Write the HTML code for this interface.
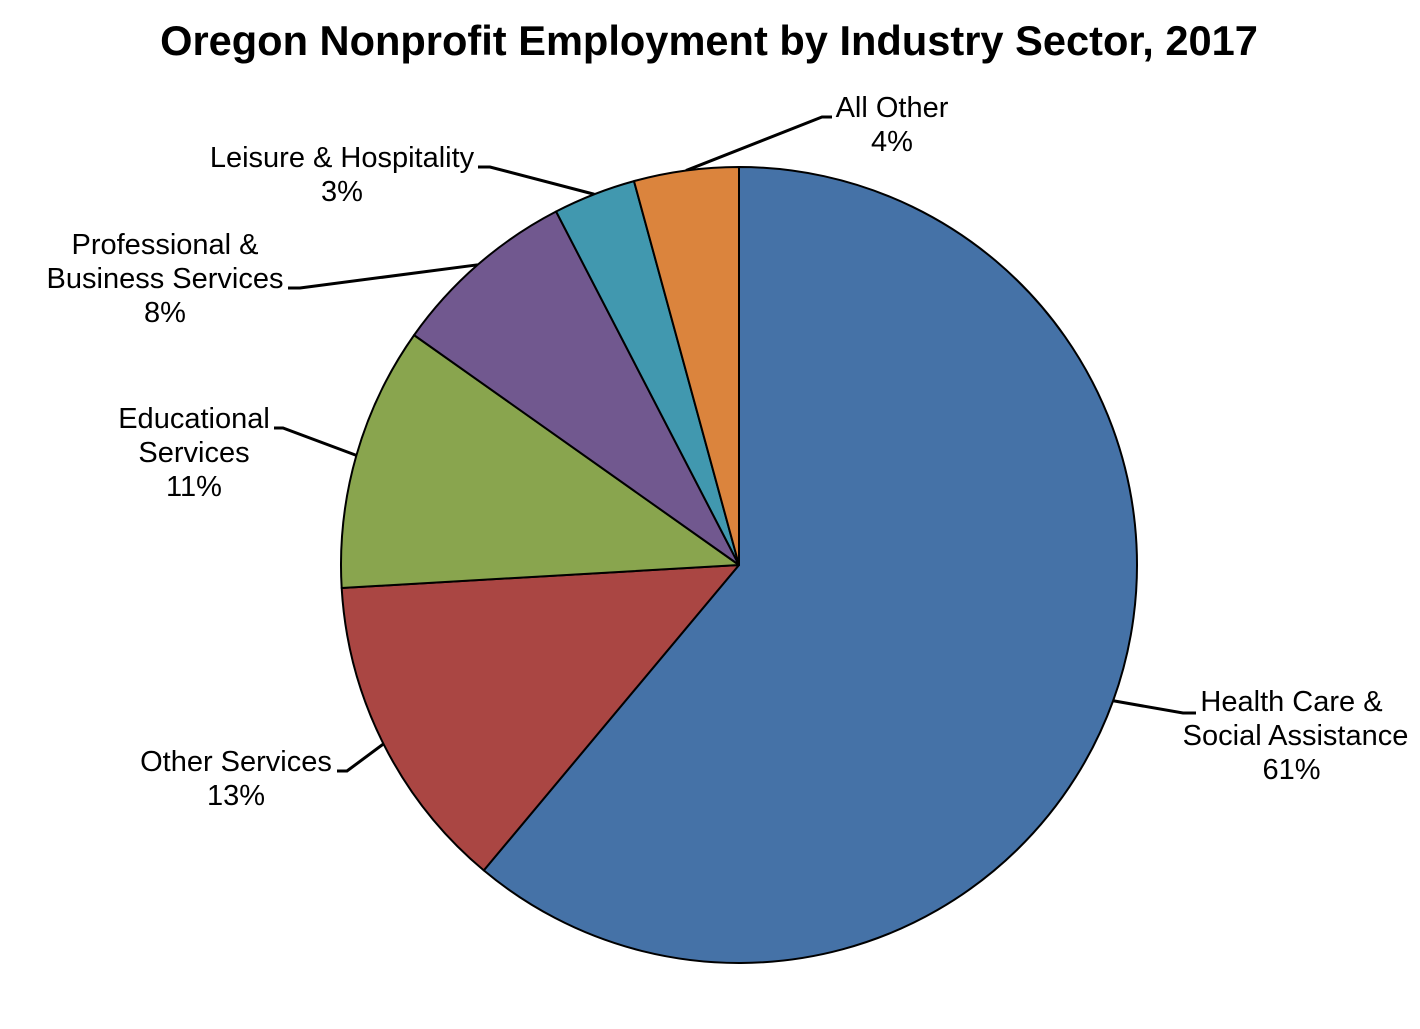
<!DOCTYPE html>
<html lang="en">
<head>
<meta charset="utf-8">
<title>Oregon Nonprofit Employment by Industry Sector, 2017</title>
<style>
html,body{margin:0;padding:0;background:#fff;width:1420px;height:1029px;overflow:hidden}
svg{display:block;font-family:"Liberation Sans",Arial,sans-serif}
</style>
</head>
<body>
<svg id="chart" xmlns="http://www.w3.org/2000/svg" width="1420" height="1029" viewBox="0 0 1420 1029">
<rect width="1420" height="1029" fill="#fff"/>
<text x="709" y="55" text-anchor="middle" font-size="41.6" font-weight="700" fill="#000">Oregon Nonprofit Employment by Industry Sector, 2017</text>
<g id="leaders"></g>
<g id="slices"></g>
<g id="labels"></g>
</svg>
<script>
const sectors = ["Health Care & Social Assistance", "Other Services", "Educational Services", "Professional & Business Services", "Leisure & Hospitality", "All Other"];
const shares = [61.08, 13.0, 10.72, 7.6, 3.35, 4.25];
const printedValues = ["61%", "13%", "11%", "8%", "3%", "4%"];
const labelLines = [["Health Care &", "Social Assistance"], ["Other Services"], ["Educational", "Services"], ["Professional &", "Business Services"], ["Leisure & Hospitality"], ["All Other"]];

const colors = ["#4572A7", "#AA4643", "#89A54E", "#71588F", "#4198AF", "#DB843D"];
const labelLayout = [
  {cx: 1291.5, y: 711, elbowX: 1183, elbowY: 713, endX: 1196, shift: [0, 4, 0]},
  {cx: 236, y: 771, elbowX: 347, elbowY: 771, endX: 337, shift: [0, 0]},
  {cx: 194, y: 428, elbowX: 283, elbowY: 428, endX: 274, shift: [0, 0, 0]},
  {cx: 165, y: 254, elbowX: 300, elbowY: 288, endX: 288, shift: [0, 0, 0]},
  {cx: 342, y: 167, elbowX: 490, elbowY: 167, endX: 478, shift: [0, 0]},
  {cx: 892, y: 117, elbowX: 822, elbowY: 117, endX: 832, shift: [0, 0]}
];
const NS = "http://www.w3.org/2000/svg";
const CX = 739, CY = 565, R = 398, LINE_HEIGHT = 34;
const total = shares.reduce((a, b) => a + b, 0);
const angleOf = v => v / total * 2 * Math.PI;
const px = a => CX + R * Math.sin(a);
const py = a => CY - R * Math.cos(a);
const slicesG = document.getElementById("slices");
const leadersG = document.getElementById("leaders");
const labelsG = document.getElementById("labels");
let cum = 0;
shares.forEach((v, i) => {
  const a0 = angleOf(cum), a1 = angleOf(cum + v), mid = (a0 + a1) / 2;
  cum += v;
  const large = a1 - a0 > Math.PI ? 1 : 0;
  const slice = document.createElementNS(NS, "path");
  slice.setAttribute("d", `M${CX} ${CY}L${px(a0)} ${py(a0)}A${R} ${R} 0 ${large} 1 ${px(a1)} ${py(a1)}Z`);
  slice.setAttribute("fill", colors[i]);
  slice.setAttribute("stroke", "#000");
  slice.setAttribute("stroke-width", "2");
  slice.setAttribute("stroke-linejoin", "round");
  
  
  const tip = document.createElementNS(NS, "title");
  tip.textContent = sectors[i] + ": " + printedValues[i];
  slice.appendChild(tip);
  slicesG.appendChild(slice);

  const L = labelLayout[i];
  const leader = document.createElementNS(NS, "polyline");
  leader.setAttribute("points", `${px(mid)},${py(mid)} ${L.elbowX},${L.elbowY} ${L.endX},${L.elbowY}`);
  leader.setAttribute("fill", "none");
  leader.setAttribute("stroke", "#000");
  leader.setAttribute("stroke-width", "3");
  
  
  leadersG.appendChild(leader);

  const text = document.createElementNS(NS, "text");
  text.setAttribute("text-anchor", "middle");
  text.setAttribute("font-size", "29");
  text.setAttribute("fill", "#000");
  
  
  labelLines[i].concat(printedValues[i]).forEach((line, k) => {
    const tspan = document.createElementNS(NS, "tspan");
    tspan.setAttribute("x", L.cx + L.shift[k]);
    tspan.setAttribute("y", L.y + k * LINE_HEIGHT);
    tspan.textContent = line;
    text.appendChild(tspan);
  });
  labelsG.appendChild(text);
});
</script>
</body>
</html>
